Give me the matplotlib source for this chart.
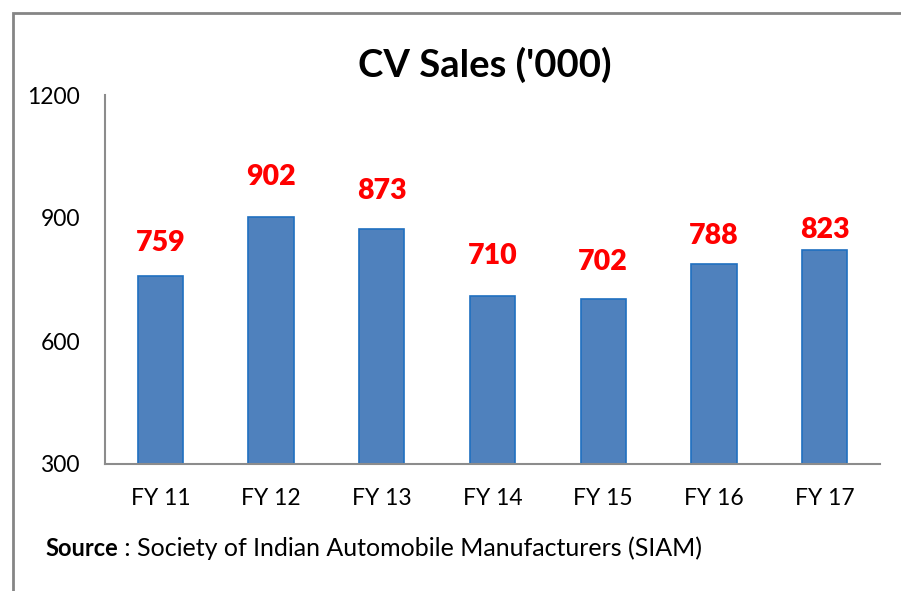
import matplotlib.pyplot as plt
from matplotlib.patches import Rectangle

# Chart data
years = ["FY 11", "FY 12", "FY 13", "FY 14", "FY 15", "FY 16", "FY 17"]
sales = [759, 902, 873, 710, 702, 788, 823]
y_ticks = [300, 600, 900, 1200]

# label gaps above each bar (points) - placed by hand in the original
label_gap = [18, 23.5, 22, 23, 21, 14.5, 8]

plt.rcParams["font.family"] = ["Lato", "DejaVu Sans"]

fig = plt.figure(figsize=(9.01, 5.91), dpi=100)
W, H = 901, 591

# outer frame (only top/left visible in the crop)
fig.patches.append(Rectangle((13 / W, -0.1), 1.2, (H - 13) / H + 0.1,
                             transform=fig.transFigure, fill=False,
                             edgecolor="#858585", linewidth=2))

ax = fig.add_axes([105 / W, 1 - 464 / H, 775 / W, 369 / H])
x = range(len(years))
ax.bar(x, sales, width=0.41, color="#4F81BD", edgecolor="#1F6FC0", linewidth=1.2, bottom=0)

for i, v in enumerate(sales):
    ax.annotate(str(v), (i, v), xytext=(0, label_gap[i]), textcoords="offset points",
                ha="center", va="baseline", color="#FF0000", fontsize=20.5, fontweight="heavy")

ax.set_xlim(-0.5, len(years) - 0.5)
ax.set_ylim(y_ticks[0], y_ticks[-1])
ax.set_yticks(y_ticks)
ax.set_xticks(list(x))
ax.set_xticklabels(years)
ax.tick_params(length=0, labelsize=16.5, colors="black")
ax.tick_params(axis="x", pad=17)
ax.tick_params(axis="y", pad=18)
for s in ["top", "right"]:
    ax.spines[s].set_visible(False)
for s in ["left", "bottom"]:
    ax.spines[s].set_color("#8C8C8C")
    ax.spines[s].set_linewidth(1.5)

fig.text(485 / W, 1 - 65 / H, "CV Sales ('000)", ha="center", va="center",
         fontsize=27.5, fontweight="bold")

src = fig.text(45 / W, 1 - 548 / H, "Source", ha="left", va="center",
               fontsize=17, fontweight="bold")
fig.canvas.draw()
bb = src.get_window_extent()
fig.text(bb.x1 / W, 1 - 548 / H, " : Society of Indian Automobile Manufacturers (SIAM)",
         ha="left", va="center", fontsize=18)

fig.savefig("out.png", dpi=100)
